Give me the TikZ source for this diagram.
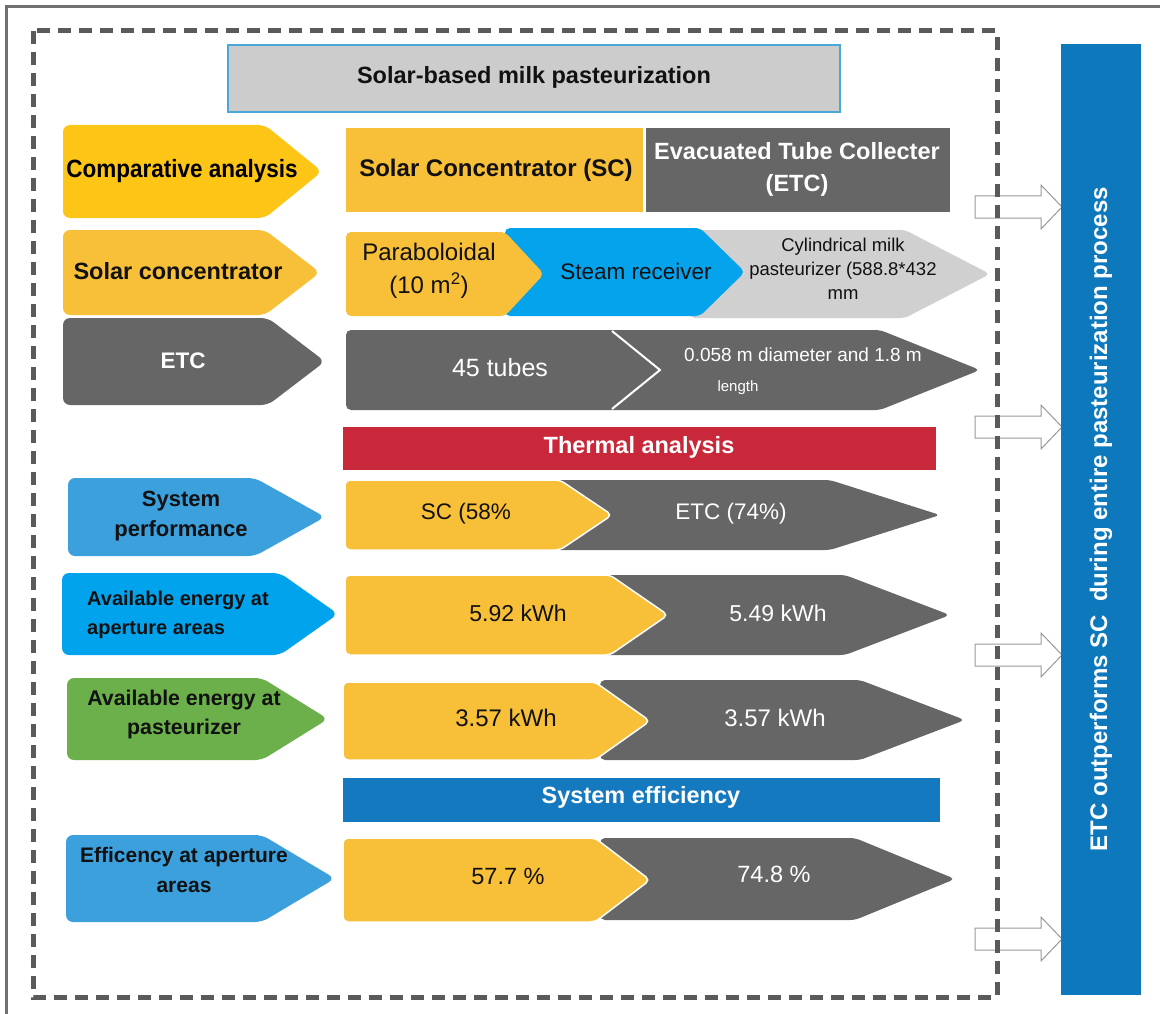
\documentclass[tikz,border=0pt]{standalone}
\usepackage{fontspec}
\setmainfont{Liberation Sans}

\definecolor{frameGray}{HTML}{707070}
\definecolor{dashGray}{HTML}{5A5A5A}
\definecolor{titleFill}{HTML}{CCCCCC}
\definecolor{titleLine}{HTML}{4AA8D8}
\definecolor{gold}{HTML}{FDC516}
\definecolor{amber}{HTML}{F8BF38}
\definecolor{darkGray}{HTML}{666666}
\definecolor{lightGray}{HTML}{D0D0D0}
\definecolor{steamBlue}{HTML}{04A3EC}
\definecolor{skyBlue}{HTML}{3BA0DC}
\definecolor{brightBlue}{HTML}{00A3EC}
\definecolor{leafGreen}{HTML}{6BB04B}
\definecolor{thermRed}{HTML}{C9283A}
\definecolor{effBlue}{HTML}{1479BE}
\definecolor{barBlue}{HTML}{0E78BD}
\definecolor{inkDark}{HTML}{111111}

% pentagon arrow: style, left x, top y, bottom y, point start x, tip x
\newcommand\pentpath[6]{%
  \path[#1] (#2,#3) -- (#5,#3) -- (#6,{(#3+#4)/2}) -- (#5,#4) -- (#2,#4) -- cycle;}

\tikzset{
  fs/.style 2 args={font=\fontsize{#1}{#2}\selectfont},
  fsb/.style 2 args={font=\fontsize{#1}{#2}\selectfont\bfseries},
  lab/.style={rounded corners=7pt},
  val/.style={rounded corners=5pt},
  valsc/.style={rounded corners=5pt, draw=white, line width=1.5pt},
  txt/.style={inner sep=0pt, align=center},
  sidearrow/.style={fill=white, draw=gray!80, line width=1pt},
}

\begin{document}
\begin{tikzpicture}[x=1pt, y=-1pt]
\useasboundingbox (0,0) rectangle (1160,1014);
\clip (0,0) rectangle (1160,1014);

% outer frame (top and left edges)
\draw[frameGray, line width=3pt] (6,1020) -- (6,7) -- (1165,7);

% title
\path[fill=titleFill, draw=titleLine, line width=1.5pt] (228,45) rectangle (840,112);
\node[txt, fsb={23.5}{27}, text=inkDark] (title) at (534,77) {Solar-based milk pasteurization};

% ---- row 1: comparative analysis
\pentpath{fill=gold, lab}{63}{125}{218}{265}{322}
\node[txt, fsb={25}{29}, text=black, xscale=0.9] (cmp) at (182,171) {Comparative analysis};
\path[fill=amber] (346,128) rectangle (643,212);
\path[fill=darkGray] (646,128) rectangle (950,212);
\node[txt, fsb={24}{28}, text=inkDark] (sc) at (496,170) {Solar Concentrator (SC)};
\node[txt, fsb={23.5}{32}, text=white] (etc) at (797,169) {Evacuated Tube Collecter\\(ETC)};

% ---- row 2: solar concentrator
\pentpath{fill=amber, lab}{63}{230}{315}{265}{320}
\node[txt, fsb={23.5}{27}, text=inkDark] (scl) at (178,271) {Solar concentrator};
\pentpath{fill=lightGray, val}{690}{230}{318}{905}{990}
\pentpath{fill=steamBlue, val}{505}{228}{316}{700}{745}
\pentpath{fill=amber, val}{346}{232}{316}{505}{544}
\node[txt, fs={24}{33}, text=inkDark] (para) at (429,271) {Paraboloidal\\(10 m\textsuperscript{2})};
\node[txt, fs={22.5}{26}, text=inkDark] (steam) at (636,271) {Steam receiver};
\node[txt, fs={18.5}{24}, text=inkDark] (cyl) at (843,269) {Cylindrical milk\\pasteurizer (588.8*432\\mm};

% ---- row 3: ETC
\pentpath{fill=darkGray, lab}{63}{318}{405}{268}{325}
\node[txt, fsb={22.5}{26}, text=white] (etcl) at (183,361) {ETC};
\pentpath{fill=darkGray, val}{346}{330}{410}{880}{980}
\draw[white, line width=2pt, line join=round] (612,331) -- (660,370) -- (612,409);
\node[txt, fs={25}{29}, text=white] (tubes) at (500,368) {45 tubes};
\node[txt, fs={19}{22}, text=white] (diam) at (803,355) {0.058 m diameter and 1.8 m};
\node[txt, fs={15}{18}, text=white] (len) at (738,388) {length};

% ---- thermal analysis header
\path[fill=thermRed] (343,427) rectangle (936,470);
\node[txt, fsb={23.5}{27}, text=white] (therm) at (639,447) {Thermal analysis};

% ---- row 4: system performance
\pentpath{fill=skyBlue, lab}{68}{478}{556}{255}{325}
\node[txt, fsb={22}{30}, text=inkDark] (perf) at (181,516) {System\\performance};
\pentpath{fill=darkGray, val}{555}{480}{550}{830}{940}
\pentpath{fill=amber, valsc}{345}{480}{550}{560}{612}
\node[txt, fs={22.5}{26}, text=inkDark] (scp) at (466,514) {SC (58\%};
\node[txt, fs={22.5}{26}, text=white] (etcp) at (731,514) {ETC (74\%)};

% ---- row 5: energy at aperture areas
\pentpath{fill=brightBlue, lab}{62}{573}{655}{280}{338}
\node[txt, fsb={20}{29}, text=inkDark, align=left, anchor=west] (apl) at (87,615) {Available energy at\\aperture areas};
\pentpath{fill=darkGray, val}{600}{575}{655}{845}{950}
\pentpath{fill=amber, valsc}{345}{575}{655}{610}{668}
\node[txt, fs={23}{27}, text=inkDark] (apsc) at (518,613) {5.92 kWh};
\node[txt, fs={23}{27}, text=white] (apetc) at (778,613) {5.49 kWh};

% ---- row 6: energy at pasteurizer
\pentpath{fill=leafGreen, lab}{67}{678}{760}{262}{328}
\node[txt, fsb={21.3}{29}, text=inkDark] (pal) at (184,714) {Available energy at\\pasteurizer};
\pentpath{fill=darkGray, val}{600}{680}{760}{860}{965}
\pentpath{fill=amber, valsc}{343}{682}{760}{595}{650}
\node[txt, fs={24}{28}, text=inkDark] (pasc) at (506,718) {3.57 kWh};
\node[txt, fs={24}{28}, text=white] (paetc) at (775,718) {3.57 kWh};

% ---- system efficiency header
\path[fill=effBlue] (343,778) rectangle (940,822);
\node[txt, fsb={23.5}{27}, text=white] (eff) at (641,797) {System efficiency};

% ---- row 7: efficiency at aperture areas
\pentpath{fill=skyBlue, lab}{66}{835}{922}{262}{335}
\node[txt, fsb={21}{30}, text=inkDark] (efl) at (184,870) {Efficency at aperture\\areas};
\pentpath{fill=darkGray, val}{600}{838}{920}{855}{955}
\pentpath{fill=amber, valsc}{343}{838}{922}{595}{650}
\node[txt, fs={23.5}{27}, text=inkDark] (efsc) at (508,876) {57.7 \%};
\node[txt, fs={23.5}{27}, text=white] (efetc) at (774,874) {74.8 \%};

% ---- block arrows into the conclusion bar
\foreach \yc in {207,427,655,939} {
  \path[sidearrow] (975,\yc-11) -- (1041,\yc-11) -- (1041,\yc-22) -- (1062,\yc)
    -- (1041,\yc+22) -- (1041,\yc+11) -- (975,\yc+11) -- cycle;
}

% dashed boundary
\draw[dashGray, line width=5pt, dash pattern=on 13pt off 8pt] (33,31) rectangle (997,997);

% conclusion bar
\path[fill=barBlue] (1061,44) rectangle (1141,995);
\node[txt, fsb={24}{28}, text=white, rotate=90] (concl) at (1101,519)
  {ETC outperforms SC\ \ during entire pasteurization process};
\end{tikzpicture}
\end{document}
